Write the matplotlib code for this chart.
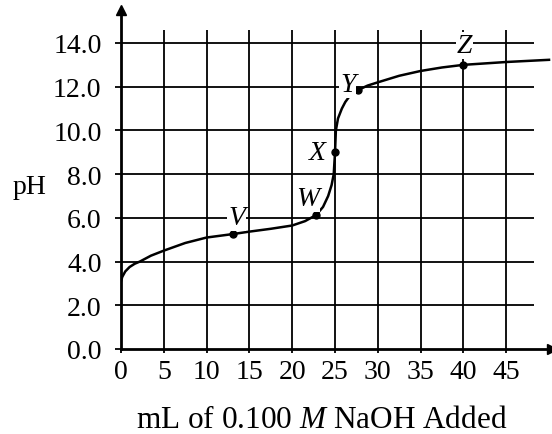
import matplotlib.pyplot as plt

# Titration curve
volume = [0, 0.15, 0.5, 1, 1.6, 2.2, 3.5, 5, 7.5, 10, 13.1, 15, 17.5, 20, 21.5,
          22.8, 23.6, 24.2, 24.6, 24.85, 25.0, 25.1, 25.35, 25.8, 26.2, 26.8,
          27.7, 28.8, 30, 32.5, 35, 37.5, 40, 45, 50]
ph = [3.1, 3.3, 3.55, 3.75, 3.9, 4.0, 4.27, 4.5, 4.85, 5.1, 5.26, 5.37, 5.5,
      5.65, 5.85, 6.13, 6.5, 7.0, 7.5, 8.0, 9.0, 10.0, 10.55, 11.0, 11.3,
      11.62, 11.85, 12.05, 12.2, 12.5, 12.72, 12.88, 13.0, 13.13, 13.23]

# Labelled points
point_names = ["V", "W", "X", "Y", "Z"]
point_vol = [13.1, 22.8, 25.05, 27.7, 40]
point_ph = [5.26, 6.13, 9.0, 11.85, 13.0]
label_vol = [13.5, 21.8, 22.95, 26.5, 40.1]
label_ph = [6.0, 6.9, 8.97, 12.1, 13.9]

x_ticks = [0, 5, 10, 15, 20, 25, 30, 35, 40, 45]
y_ticks = [0, 2, 4, 6, 8, 10, 12, 14]

plt.rcParams['font.family'] = ['Liberation Serif', 'DejaVu Serif']
plt.rcParams['mathtext.fontset'] = 'custom'
plt.rcParams['mathtext.rm'] = 'Liberation Serif'
plt.rcParams['mathtext.it'] = 'Liberation Serif:italic'

fig = plt.figure(figsize=(5.52, 4.35), dpi=100)
ax = fig.add_axes([121 / 552, 1 - 350 / 435, 430.6 / 552, 338.8 / 435])
ax.set_xlim(0, 50.3)
ax.set_ylim(0, 15.5)

# grid
ax.vlines(x_ticks[1:], 0, 14.6, color='black', lw=1.3, zorder=1)
ax.hlines(y_ticks[1:], 0, 48.2, color='black', lw=1.3, zorder=1)

ax.plot(volume, ph, color='black', lw=1.8, zorder=3)
ax.plot(point_vol, point_ph, 'o', color='black', ms=5, zorder=4)
for name, lx, ly in zip(point_names, label_vol, label_ph):
    ax.text(lx, ly, name, fontsize=20, style='italic', ha='center', va='center',
            zorder=5, bbox=dict(facecolor='white', edgecolor='none', pad=0.5))

for s in ['top', 'right']:
    ax.spines[s].set_visible(False)
for s in ['left', 'bottom']:
    ax.spines[s].set_linewidth(2)
ax.plot(1, 0, '>k', ms=7, transform=ax.get_yaxis_transform(), clip_on=False)
ax.plot(0, 1, '^k', ms=7, transform=ax.get_xaxis_transform(), clip_on=False)

ax.set_xticks(x_ticks)
ax.set_yticks(y_ticks)
ax.set_yticklabels([f"{v:.1f}" for v in y_ticks])
ax.tick_params(axis='y', length=4, width=1.3, labelsize=20, pad=10)
ax.tick_params(axis='x', length=3, width=1.3, labelsize=20, pad=4)

fig.text(322 / 552, 1 - 421 / 435, "mL of 0.100 $M$ NaOH Added",
         fontsize=22.5, ha='center', va='center')
fig.text(30 / 552, 1 - 188 / 435, "pH", fontsize=20, ha='center', va='center')

fig.savefig("out.png", dpi=100)
